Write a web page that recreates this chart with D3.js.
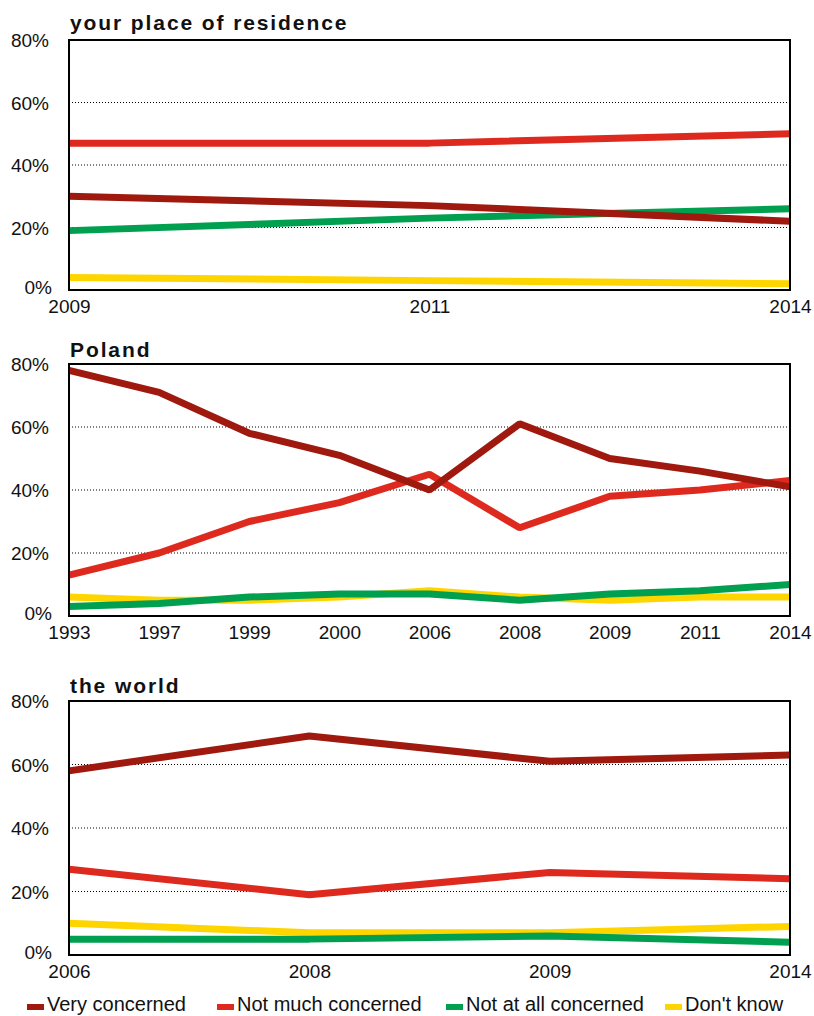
<!DOCTYPE html>
<html>
<head>
<meta charset="utf-8">
<script src="https://cdn.jsdelivr.net/npm/d3@7"></script>
<style>
  body { margin: 0; background: #fff; }
  svg text { font-family: "Liberation Sans", Arial, sans-serif; fill: #111; }
</style>
</head>
<body>
<svg width="814" height="1016"></svg>
<script>
// series names
var seriesNames = ["Very concerned", "Not much concerned", "Not at all concerned", "Don't know"];
var seriesColors = ["#a0190f", "#de2a1e", "#00a050", "#ffd500"];
var yTicks = [0, 20, 40, 60, 80];

// your place of residence
var residenceYears = ["2009", "2011", "2014"];
var residenceVery = [30, 27, 22];
var residenceNotMuch = [47, 47, 50];
var residenceNotAtAll = [19, 23, 26];
var residenceDontKnow = [4, 3, 2];

// Poland
var polandYears = ["1993", "1997", "1999", "2000", "2006", "2008", "2009", "2011", "2014"];
var polandVery = [78, 71, 58, 51, 40, 61, 50, 46, 41];
var polandNotMuch = [13, 20, 30, 36, 45, 28, 38, 40, 43];
var polandNotAtAll = [3, 4, 6, 7, 7, 5, 7, 8, 10];
var polandDontKnow = [6, 5, 5, 6, 8, 6, 5, 6, 6];

// the world
var worldYears = ["2006", "2008", "2009", "2014"];
var worldVery = [58, 69, 61, 63];
var worldNotMuch = [27, 19, 26, 24];
var worldNotAtAll = [5, 5, 6, 4];
var worldDontKnow = [10, 7, 7, 9];

var svg = d3.select('svg');
var left = 69, right = 790;

function panel(title, years, vals, top, bottom, titleY) {
    var g = svg.append('g');
    var x = d3.scalePoint().domain(years).range([left, right]).padding(0);
    var y = d3.scaleLinear().domain([0, 80]).range([bottom, top]);

    // dotted grid
    g.selectAll('.grid').data([20, 40, 60]).enter().append('line')
        .attr('x1', left).attr('x2', right)
        .attr('y1', function (d) { return y(d); }).attr('y2', function (d) { return y(d); })
        .attr('stroke', '#000').attr('stroke-width', 1).attr('stroke-dasharray', '1,2');

    // y labels
    var ya = d3.axisLeft(y).tickValues(yTicks).tickSize(0).tickPadding(20)
        .tickFormat(function (d) { return d + '%'; });
    var yg = g.append('g').attr('transform', 'translate(' + left + ',0)').call(ya);
    yg.select('.domain').remove();
    yg.selectAll('text').style('font-size', '19px').attr('dy', '0.35em');
    yg.selectAll('.tick').filter(function (d) { return d === 0; }).select('text')
        .attr('x', -17).attr('dy', '0.2em');

    // x labels
    var xa = d3.axisBottom(x).tickSize(0).tickPadding(10);
    var xg = g.append('g').attr('transform', 'translate(0,' + bottom + ')').call(xa);
    xg.select('.domain').remove();
    xg.selectAll('text').style('font-size', '19px');

    // lines, yellow first so dark red sits on top
    var line = d3.line()
        .x(function (d, i) { return x(years[i]); })
        .y(function (d) { return y(d); });
    for (var s = vals.length - 1; s >= 0; s--) {
        g.append('path').datum(vals[s])
            .attr('d', line)
            .attr('fill', 'none')
            .attr('stroke', seriesColors[s])
            .attr('stroke-width', 7)
            .attr('stroke-linejoin', 'bevel');
    }

    // frame
    g.append('rect').attr('x', left).attr('y', top)
        .attr('width', right - left).attr('height', bottom - top)
        .attr('fill', 'none').attr('stroke', '#000').attr('stroke-width', 2);

    g.append('text').attr('x', left + 1).attr('y', titleY)
        .style('font-size', '21px').style('font-weight', 'bold').style('letter-spacing', '1.9px')
        .text(title);
}

panel('your place of residence', residenceYears,
    [residenceVery, residenceNotMuch, residenceNotAtAll, residenceDontKnow], 40, 290, 30);
panel('Poland', polandYears,
    [polandVery, polandNotMuch, polandNotAtAll, polandDontKnow], 364, 616, 357);
panel('the world', worldYears,
    [worldVery, worldNotMuch, worldNotAtAll, worldDontKnow], 701, 955, 693);

// legend
var legendX = [27, 217, 446, 665];
var lg = svg.append('g');
seriesNames.forEach(function (name, i) {
    lg.append('rect').attr('x', legendX[i]).attr('y', 1004).attr('width', 17).attr('height', 6)
        .attr('fill', seriesColors[i]);
    lg.append('text').attr('x', legendX[i] + 20).attr('y', 1011)
        .style('font-size', '20px').text(name);
});
</script>
</body>
</html>
